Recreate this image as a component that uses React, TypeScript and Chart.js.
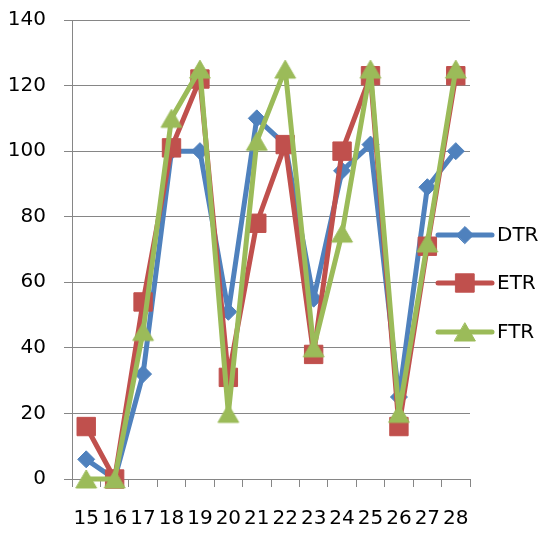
import React, { useEffect, useRef } from "react";
import { Chart, registerables } from "chart.js";

Chart.register(...registerables);

const categories = ["15", "16", "17", "18", "19", "20", "21", "22", "23", "24", "25", "26", "27", "28"];
const dtr = [6, 0, 32, 100, 100, 51, 110, 102, 55, 94, 102, 25, 89, 100];
const etr = [16, 0, 54, 101, 122, 31, 78, 102, 38, 100, 123, 16, 71, 123];
const ftr = [0, 0, 45, 110, 125, 20, 103, 125, 40, 75, 125, 20, 72, 125];
const seriesNames = ["DTR", "ETR", "FTR"];
const seriesColors = ["#4F81BD", "#C0504D", "#9BBB59"];
const seriesMarkers = ["rectRot", "rect", "triangle"];
const markerRadius = [8.5, 13, 12];

const FONT = "'DejaVu Sans', sans-serif";

function drawMarker(ctx: CanvasRenderingContext2D, style: string, r: number, x: number, y: number, color: string) {
  ctx.fillStyle = color;
  ctx.strokeStyle = color;
  ctx.lineWidth = 1;
  ctx.beginPath();
  if (style === "rectRot") {
    ctx.moveTo(x - r, y);
    ctx.lineTo(x, y - r);
    ctx.lineTo(x + r, y);
    ctx.lineTo(x, y + r);
  } else if (style === "rect") {
    const s = Math.SQRT1_2 * r;
    ctx.rect(x - s, y - s, 2 * s, 2 * s);
  } else {
    // triangle centred on its bounding box
    const h = 1.5 * r;
    const hw = Math.sin(Math.PI / 3) * r;
    ctx.moveTo(x, y - h / 2);
    ctx.lineTo(x + hw, y + h / 2);
    ctx.lineTo(x - hw, y + h / 2);
  }
  ctx.closePath();
  ctx.fill();
  ctx.stroke();
}

function makeTriangleImage(r: number, color: string): HTMLCanvasElement {
  const size = Math.ceil(2 * r + 4);
  const c = document.createElement("canvas");
  c.width = size;
  c.height = size;
  const ctx = c.getContext("2d")!;
  drawMarker(ctx, "triangle", r, size / 2, size / 2, color);
  return c;
}

const legendPlugin = {
  id: "customLegend",
  afterDraw(chart: any) {
    const ctx = chart.ctx;
    const x0 = 438;
    const x1 = 492;
    const ys = [235, 283, 332];
    ctx.save();
    seriesNames.forEach((name, i) => {
      const y = ys[i];
      ctx.strokeStyle = seriesColors[i];
      ctx.lineWidth = 5;
      ctx.lineCap = "round";
      ctx.beginPath();
      ctx.moveTo(x0, y);
      ctx.lineTo(x1, y);
      ctx.stroke();
      drawMarker(ctx, seriesMarkers[i], markerRadius[i], (x0 + x1) / 2, y, seriesColors[i]);
      ctx.fillStyle = "#000";
      ctx.font = `20px ${FONT}`;
      ctx.textAlign = "left";
      ctx.textBaseline = "middle";
      ctx.fillText(name, 497, y + 1);
    });
    ctx.restore();
  },
};

export default function App() {
  const ref = useRef<HTMLCanvasElement | null>(null);
  useEffect(() => {
    if (!ref.current) return;
    const values = [dtr, etr, ftr];
    const styles: any[] = seriesMarkers.map((m, i) =>
      m === "triangle" ? makeTriangleImage(markerRadius[i], seriesColors[i]) : m
    );
    const chart = new Chart(ref.current, {
      type: "line",
      data: {
        labels: categories,
        datasets: values.map((v, i) => ({
          label: seriesNames[i],
          data: v,
          borderColor: seriesColors[i],
          backgroundColor: seriesColors[i],
          borderWidth: 5,
          borderJoinStyle: "round" as const,
          borderCapStyle: "round" as const,
          pointStyle: styles[i],
          pointRadius: markerRadius[i],
          pointBorderWidth: 1,
          pointBorderColor: seriesColors[i],
          pointBackgroundColor: seriesColors[i],
          tension: 0,
          clip: false as any,
          order: 2 - i,
        })),
      },
      options: {
        animation: false,
        responsive: true,
        maintainAspectRatio: false,
        layout: { autoPadding: false, padding: { top: 20, right: 71, left: 0, bottom: 0 } },
        plugins: {
          legend: { display: false },
          title: { display: false },
          tooltip: { enabled: false },
        },
        scales: {
          x: {
            offset: true,
            grid: {
              offset: true,
              drawOnChartArea: false,
              drawTicks: true,
              tickLength: 8,
              color: "#868686",
            },
            border: { color: "#868686", width: 1 },
            ticks: {
              autoSkip: false,
              maxRotation: 0,
              minRotation: 0,
              padding: 20,
              color: "#000",
              font: { family: FONT, size: 20 },
            },
            afterFit(scale: any) {
              scale.height = 55;
              scale.paddingLeft = 0;
              scale.paddingRight = 0;
            },
          },
          y: {
            min: 0,
            max: 140,
            ticks: {
              stepSize: 20,
              padding: 18,
              color: "#000",
              font: { family: FONT, size: 20 },
            },
            grid: {
              color: "#868686",
              lineWidth: 1,
              tickLength: 8,
            },
            border: { color: "#868686", width: 1 },
            afterFit(scale: any) {
              scale.width = 72;
              scale.paddingTop = 0;
              scale.paddingBottom = 0;
            },
          },
        },
      },
      plugins: [legendPlugin],
    });
    return () => chart.destroy();
  }, []);
  return (
    <div style={{ position: "fixed", left: 0, top: 0, width: 541, height: 534, background: "#fff" }}>
      <canvas ref={ref} style={{ display: "block" }} />
    </div>
  );
}
